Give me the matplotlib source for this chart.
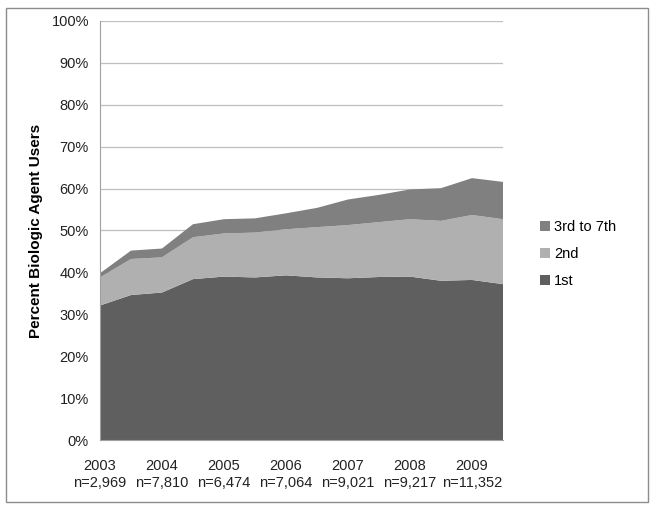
import matplotlib
matplotlib.use("Agg")
import matplotlib.pyplot as plt
from matplotlib.patches import Rectangle

plt.rcParams['font.family'] = ['Liberation Sans', 'DejaVu Sans']

years = ["2003", "2004", "2005", "2006", "2007", "2008", "2009"]
counts = ["n=2,969", "n=7,810", "n=6,474", "n=7,064", "n=9,021", "n=9,217", "n=11,352"]
first = [32.1, 34.6, 35.2, 38.4, 39.0, 38.8, 39.3, 38.8, 38.6, 38.9, 39.0, 38.0, 38.2, 37.2]
second = [6.7, 8.6, 8.4, 10.0, 10.3, 10.7, 11.0, 12.0, 12.7, 13.1, 13.7, 14.3, 15.5, 15.5]
third = [1.0, 2.0, 2.1, 3.1, 3.4, 3.4, 3.8, 4.6, 6.1, 6.5, 7.1, 7.8, 8.8, 8.9]
labels = ["1st", "2nd", "3rd to 7th"]
colors = ["#5f5f5f", "#b0b0b0", "#808080"]

fig = plt.figure(figsize=(6.54, 5.07), dpi=100)
ax = fig.add_axes([100/654, 1 - 440/507, 403/654, 419/507])

x = list(range(len(first)))
ax.stackplot(x, first, second, third, colors=colors, labels=labels, linewidth=0)

ax.set_xlim(0, len(first) - 1)
ax.set_ylim(0, 100)
ax.set_yticks(range(0, 101, 10))
ax.set_yticklabels([f"{v}%" for v in range(0, 101, 10)], fontsize=10.5, color="#222222")
ax.set_xticks(x[::2])
ax.set_xticklabels([f"{y}\n{n}" for y, n in zip(years, counts)], fontsize=10.5, color="#222222")
ax.tick_params(axis='x', length=0, pad=14)
ax.tick_params(axis='y', length=0, pad=8)
ax.grid(axis='y', color="#bfbfbf", linewidth=0.9)
ax.set_axisbelow(True)
for s in ["top", "right"]:
    ax.spines[s].set_visible(False)
ax.spines["left"].set_color("#a0a0a0")
ax.spines["bottom"].set_color("#a0a0a0")
ax.set_ylabel("Percent Biologic Agent Users", fontsize=11, fontweight="bold", labelpad=6)

handles, labs = ax.get_legend_handles_labels()
fig.legend(handles[::-1], labs[::-1], loc="center left", bbox_to_anchor=(527/654, 1 - 254/507),
           frameon=False, fontsize=10.5, handlelength=0.7, handleheight=0.7,
           handletextpad=0.25, labelspacing=0.9)

fig.patches.append(Rectangle((6/654, 5/507), 642/654, 494/507, transform=fig.transFigure,
                             fill=False, edgecolor="#8c8c8c", linewidth=1))

fig.savefig("out.png", dpi=100)
